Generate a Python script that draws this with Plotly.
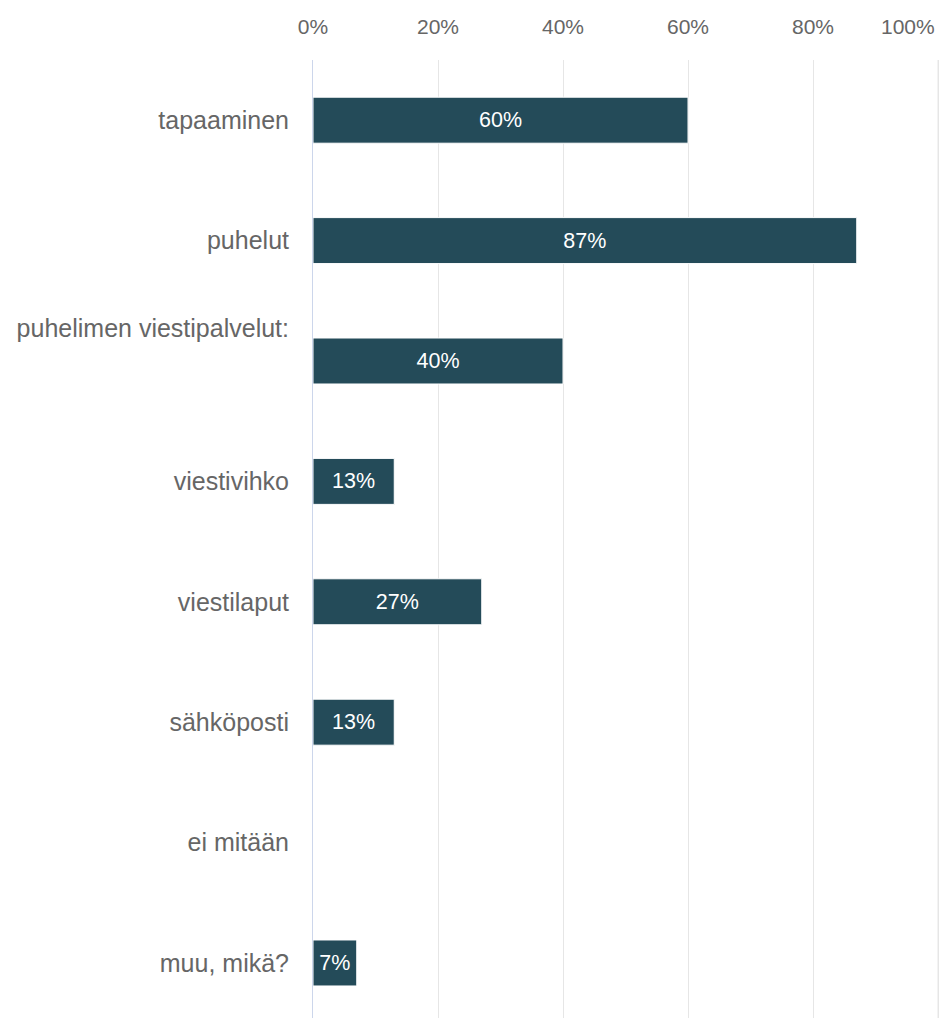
import plotly.graph_objects as go

# Survey answers: how information is shared (share of respondents, %)
categories = [
    "tapaaminen",
    "puhelut",
    "puhelimen viestipalvelut:",
    "viestivihko",
    "viestilaput",
    "sähköposti",
    "ei mitään",
    "muu, mikä?",
]
values = [60, 87, 40, 13, 27, 13, 0, 7]

x_ticks = [0, 20, 40, 60, 80, 100]
x_tick_labels = ["0%", "20%", "40%", "60%", "80%", "100%"]

NBSP = "\u00a0"
BAR_COLOR = "#244b59"
GRID_COLOR = "#e6e6e6"
TEXT_GRAY = "#666666"
FONT = "Liberation Sans, Arial, Helvetica, sans-serif"

# The long label sits above its bar, so pad it with blank lines
cat_text = [
    c + ("<br>" + NBSP + "<br>" + NBSP if c.endswith(":") else "")
    for c in categories
]
# The last tick label is right-aligned to its grid line so it stays on canvas
last_tick = x_ticks[-1]
tick_text = [t if v != last_tick else "" for v, t in zip(x_ticks, x_tick_labels)]

bar_labels = [f"{v}%" if v else "" for v in values]

fig = go.Figure(
    go.Bar(
        x=values,
        y=list(range(len(categories))),
        orientation="h",
        width=0.382,
        marker=dict(color=BAR_COLOR, line=dict(color="#ffffff", width=1)),
        text=bar_labels,
        textposition="inside",
        insidetextanchor="middle",
        textangle=0,
        textfont=dict(color="#ffffff", size=21.5, family=FONT),
        hoverinfo="skip",
    )
)

fig.update_layout(
    width=942,
    height=1018,
    margin=dict(l=313, r=0, t=60, b=0),
    paper_bgcolor="#ffffff",
    plot_bgcolor="#ffffff",
    showlegend=False,
    font=dict(family=FONT, color=TEXT_GRAY),
)

fig.update_xaxes(
    side="top",
    range=[0, 100.64],
    tickvals=x_ticks,
    ticktext=tick_text,
    tickfont=dict(size=21, color=TEXT_GRAY),
    automargin=False,
    showgrid=True,
    gridcolor=GRID_COLOR,
    gridwidth=1,
    zeroline=False,
    showline=False,
    ticks="",
    ticklabelstandoff=21,
    fixedrange=True,
)

# Grid line at the last tick, kept explicit since it sits near the plot edge
fig.add_shape(
    type="line",
    xref="x",
    yref="paper",
    x0=last_tick,
    x1=last_tick,
    y0=0,
    y1=1,
    line=dict(color=GRID_COLOR, width=1),
    layer="below",
)

fig.add_annotation(
    x=last_tick,
    xref="x",
    xanchor="right",
    xshift=-1,
    y=1,
    yref="paper",
    yanchor="bottom",
    yshift=20,
    text=x_tick_labels[-1],
    showarrow=False,
    font=dict(size=21, color=TEXT_GRAY, family=FONT),
)

fig.update_yaxes(
    range=[7.457, -0.5],
    tickvals=list(range(len(categories))),
    ticktext=cat_text,
    tickfont=dict(size=25, color=TEXT_GRAY),
    automargin=False,
    showgrid=False,
    zeroline=False,
    showline=True,
    linecolor="#ccd6eb",
    linewidth=1,
    ticks="",
    ticklabelstandoff=18,
    fixedrange=True,
)

fig.write_html("out.html")
